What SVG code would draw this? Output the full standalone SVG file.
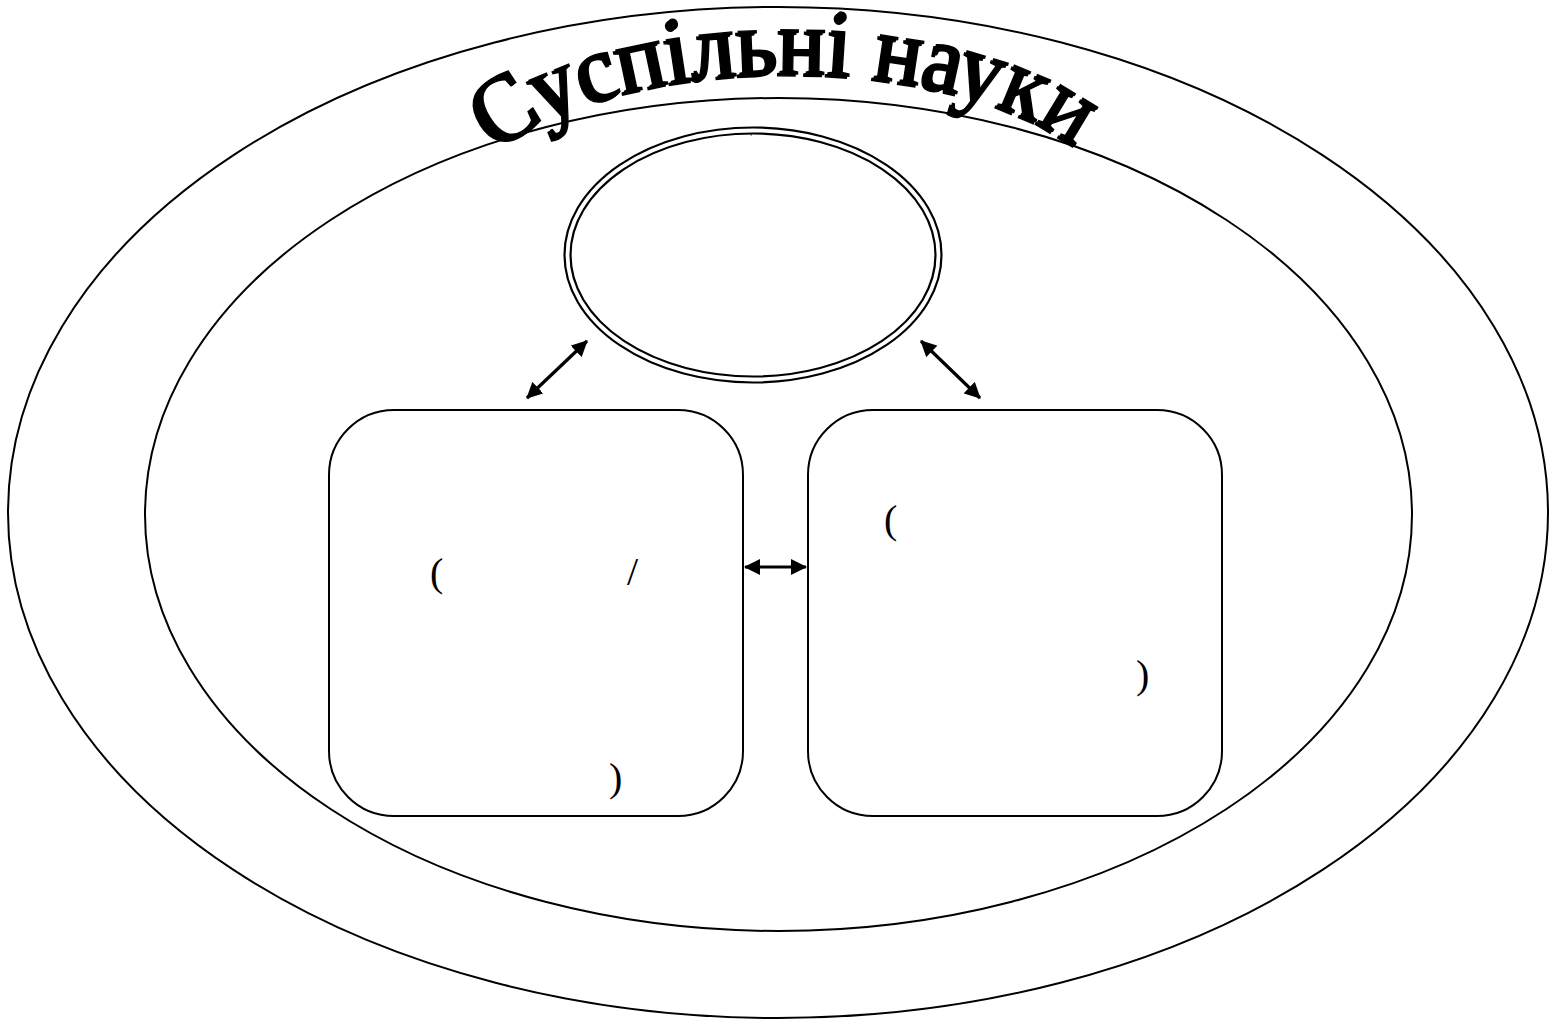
<svg xmlns="http://www.w3.org/2000/svg" width="1550" height="1020" viewBox="0 0 1550 1020">
<style>
.ln{fill:none;stroke:#000;stroke-width:2}
.dbl{fill:none;stroke:#000;stroke-width:2.2}
.box{fill:none;stroke:#000;stroke-width:2}
.frag{font-family:"Liberation Serif","Times New Roman",serif;font-size:40px;fill:#000}
.title{font-family:"Liberation Serif","Times New Roman",serif;font-size:96px;font-weight:normal;fill:#000;stroke:#000;stroke-width:1.4}
.arr{stroke:#000;stroke-width:3.2;fill:none;marker-start:url(#ah);marker-end:url(#ah)}
</style>
<defs>
<marker id="ah" markerUnits="userSpaceOnUse" viewBox="0 0 16 16" markerWidth="16" markerHeight="16" refX="15" refY="8" orient="auto-start-reverse">
<path d="M0,0 L16,8 L0,16 z" fill="#000"/>
</marker>
<path id="arc" d="M 470,184.3 A 330,146 0 0 1 1110,184.3"/>
</defs>
<rect width="1550" height="1020" fill="#fff"/>
<g id="outer-ellipse"><ellipse class="ln" cx="778" cy="512.5" rx="770" ry="505.5"/></g>
<g id="inner-ellipse"><ellipse class="ln" cx="778.5" cy="514.5" rx="633.5" ry="416.5"/></g>
<g id="title">
<text class="title" transform="translate(-2.5,2)"><textPath href="#arc" startOffset="42" textLength="608" lengthAdjust="spacingAndGlyphs">Суспільні науки</textPath></text>
<text class="title"><textPath href="#arc" startOffset="42" textLength="608" lengthAdjust="spacingAndGlyphs">Суспільні науки</textPath></text>
</g>
<g id="top-node">
<ellipse class="dbl" cx="753" cy="255" rx="188.5" ry="127.5"/>
<ellipse class="dbl" cx="753" cy="255" rx="182.5" ry="121.5"/>
<text x="750" y="135" font-family="Liberation Serif,serif" font-size="9">,</text>
</g>
<g id="left-node">
<rect class="box" x="329" y="410" width="414" height="406" rx="65" ry="65"/>
<text class="frag" x="430" y="586">(</text>
<text class="frag" x="627" y="585">/</text>
<text class="frag" x="609" y="791">)</text>
</g>
<g id="right-node">
<rect class="box" x="808" y="410" width="414" height="406" rx="65" ry="65"/>
<text class="frag" x="884" y="533">(</text>
<text class="frag" x="1136" y="688">)</text>
</g>
<g id="connectors">
<line class="arr" x1="587" y1="341" x2="527" y2="398"/>
<line class="arr" x1="921" y1="341" x2="980" y2="398"/>
<line class="arr" x1="745" y1="567" x2="806" y2="567"/>
</g>
</svg>
